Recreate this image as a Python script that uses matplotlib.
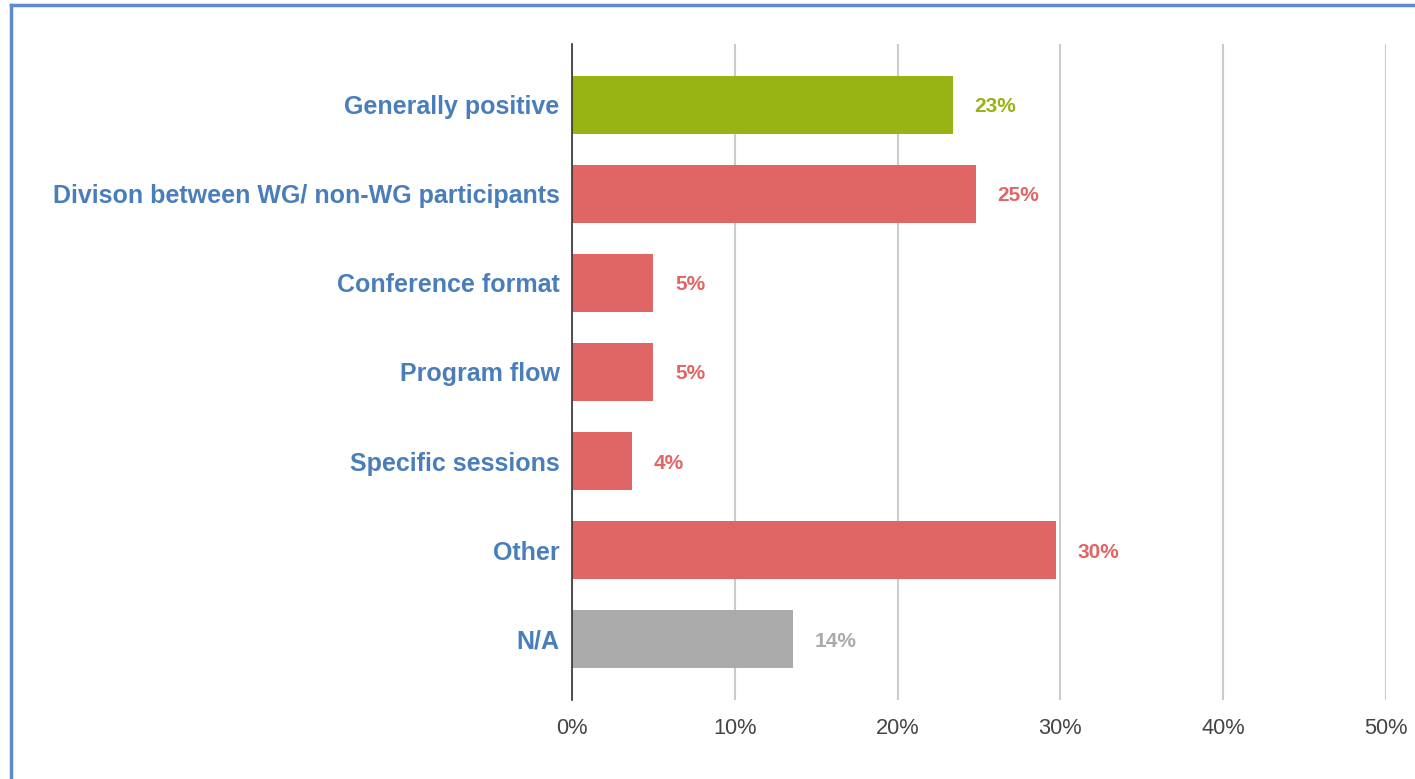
import matplotlib.pyplot as plt
from matplotlib.lines import Line2D

# Data
categories = ['Generally positive', 'Divison between WG/ non-WG participants',
              'Conference format', 'Program flow', 'Specific sessions', 'Other', 'N/A']
values = [23.4, 24.8, 5.0, 5.0, 3.7, 29.7, 13.6]
value_labels = ['23%', '25%', '5%', '5%', '4%', '30%', '14%']
bar_colors = ['#97b414', '#e06666', '#e06666', '#e06666', '#e06666', '#e06666', '#aaaaaa']
xticks = [0, 10, 20, 30, 40, 50]

plt.rcParams['font.family'] = ['Liberation Sans', 'DejaVu Sans']

fig = plt.figure(figsize=(14.15, 7.79), dpi=100)
ax = fig.add_axes([572 / 1415, 1 - 700 / 779, (1386 - 572) / 1415, (700 - 44) / 779])

y = list(range(len(categories)))
ax.barh(y, values, height=0.65, color=bar_colors, zorder=3)

for yi, v, lab, c in zip(y, values, value_labels, bar_colors):
    ax.annotate(lab, (v, yi), xytext=(15.5, 0), textcoords='offset points',
                ha='left', va='center_baseline', fontsize=15, fontweight='bold', color=c)

ax.set_xlim(0, 50)
ax.set_ylim(len(categories) - 0.32, -0.68)
ax.set_yticks(y)
ax.set_yticklabels(categories, fontsize=18, fontweight='bold', color='#4a7ebb')
ax.set_xticks(xticks)
ax.set_xticklabels([f'{t}%' for t in xticks], fontsize=15.7, color='#444444')
ax.tick_params(axis='both', length=0)
ax.tick_params(axis='y', pad=9)
ax.tick_params(axis='x', pad=13)

ax.grid(axis='x', color='#cccccc', linewidth=1.5, zorder=0)
for s in ['top', 'right', 'bottom']:
    ax.spines[s].set_visible(False)
ax.spines['left'].set_color('#333333')
ax.spines['left'].set_linewidth(1.2)
ax.spines['left'].set_zorder(4)

# blue frame on top and left edges
fig.add_artist(Line2D([11 / 1415, 11 / 1415], [0, 1 - 5 / 779], color='#5b8ccf', linewidth=2.5))
fig.add_artist(Line2D([11 / 1415, 1], [1 - 5 / 779, 1 - 5 / 779], color='#5b8ccf', linewidth=2.5))

fig.savefig('out.png', dpi=100)
